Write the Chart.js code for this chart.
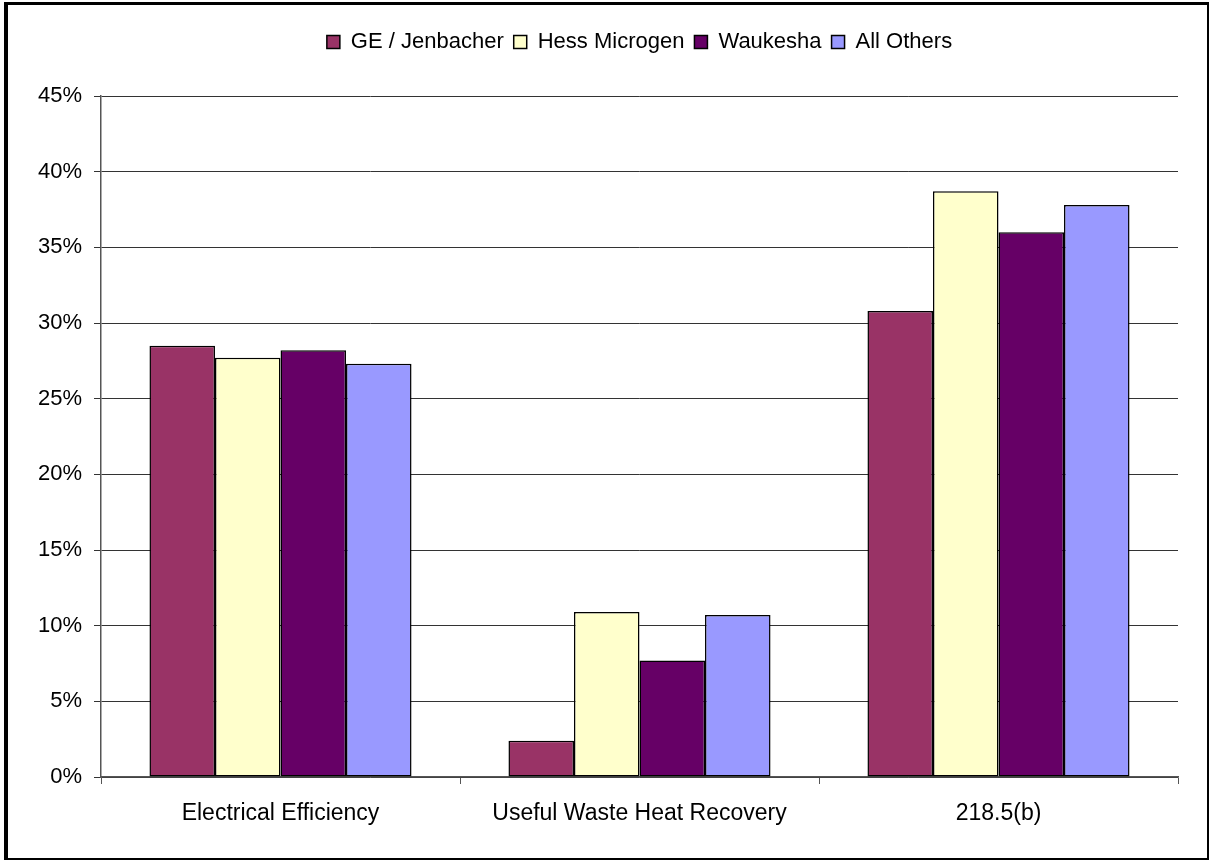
<!DOCTYPE html>
<html>
<head>
<meta charset="utf-8">
<script src="https://cdn.jsdelivr.net/npm/chart.js@4"></script>
<style>
  html, body { margin: 0; padding: 0; background: #fff; }
  #wrap { position: relative; width: 1209px; height: 860px; }
  #frame {
    position: absolute; left: 4px; top: 2px; width: 1205px; height: 858px;
    box-sizing: border-box; border-style: solid; border-color: #000;
    border-width: 3px 2px 2px 4px; pointer-events: none;
  }
</style>
</head>
<body>
<div id="wrap">
  <canvas id="effChart" width="1209" height="860"></canvas>
  <div id="frame"></div>
</div>
<script>
const categories = ["Electrical Efficiency", "Useful Waste Heat Recovery", "218.5(b)"];
const geJenbacher = [28.5, 2.4, 30.8];
const hessMicrogen = [27.7, 10.9, 38.7];
const waukesha = [28.2, 7.7, 36.0];
const allOthers = [27.3, 10.7, 37.8];
const yTicks = [0, 5, 10, 15, 20, 25, 30, 35, 40, 45];

const seriesNames = ["GE / Jenbacher", "Hess Microgen", "Waukesha", "All Others"];
const seriesColors = ["#993366", "#FFFFCC", "#660066", "#9999FF"];
const seriesData = [geJenbacher, hessMicrogen, waukesha, allOthers];

Chart.defaults.font.family = "'Liberation Sans', Arial, sans-serif";
Chart.defaults.color = "#000";

// legend: fixed height, centred over the plot area
const legendFix = {
    id: "legendFix",
    beforeInit(chart) {
        const fit = chart.legend.fit;
        chart.legend.fit = function () {
            fit.bind(chart.legend)();
            this.height = 75;
        };
    },
    afterLayout(chart) {
        chart.legend.left = chart.chartArea.left;
        chart.legend.right = chart.chartArea.right;
        chart.legend.width = chart.chartArea.right - chart.chartArea.left;
    }
};

const ctx = document.getElementById("effChart").getContext("2d");
new Chart(ctx, {
    type: "bar",
    data: {
        labels: categories,
        datasets: seriesNames.map((name, i) => ({
            label: name,
            data: seriesData[i],
            backgroundColor: seriesColors[i],
            borderColor: "#000",
            borderWidth: 1.5,
            borderSkipped: false,
            barPercentage: 1,
            categoryPercentage: 0.73
        }))
    },
    options: {
        responsive: false,
        animation: false,
        layout: { padding: { top: 21, right: 31, bottom: 0, left: 0 } },
        plugins: {
            legend: {
                position: "top",
                labels: {
                    font: { size: 22 },
                    boxWidth: 13,
                    boxHeight: 13,
                    padding: 10,
                    color: "#000"
                }
            },
            tooltip: { enabled: false }
        },
        scales: {
            x: {
                offset: true,
                grid: {
                    offset: true,
                    drawOnChartArea: false,
                    drawTicks: true,
                    tickLength: 7,
                    color: "#555"
                },
                border: { display: true, color: "#555", width: 1.5 },
                ticks: { font: { size: 23 }, padding: 16, color: "#000" },
                afterFit(scale) { scale.height = 83; }
            },
            y: {
                min: 0,
                max: 45,
                afterBuildTicks(scale) { scale.ticks = yTicks.map(v => ({ value: v })); },
                grid: { color: "#333", lineWidth: 1, tickLength: 7 },
                border: { display: true, color: "#555", width: 1.5 },
                ticks: {
                    font: { size: 22 },
                    padding: 12,
                    color: "#000",
                    callback: v => v + "%"
                },
                afterFit(scale) { scale.width = 101; }
            }
        }
    },
    plugins: [legendFix]
});
</script>
</body>
</html>
